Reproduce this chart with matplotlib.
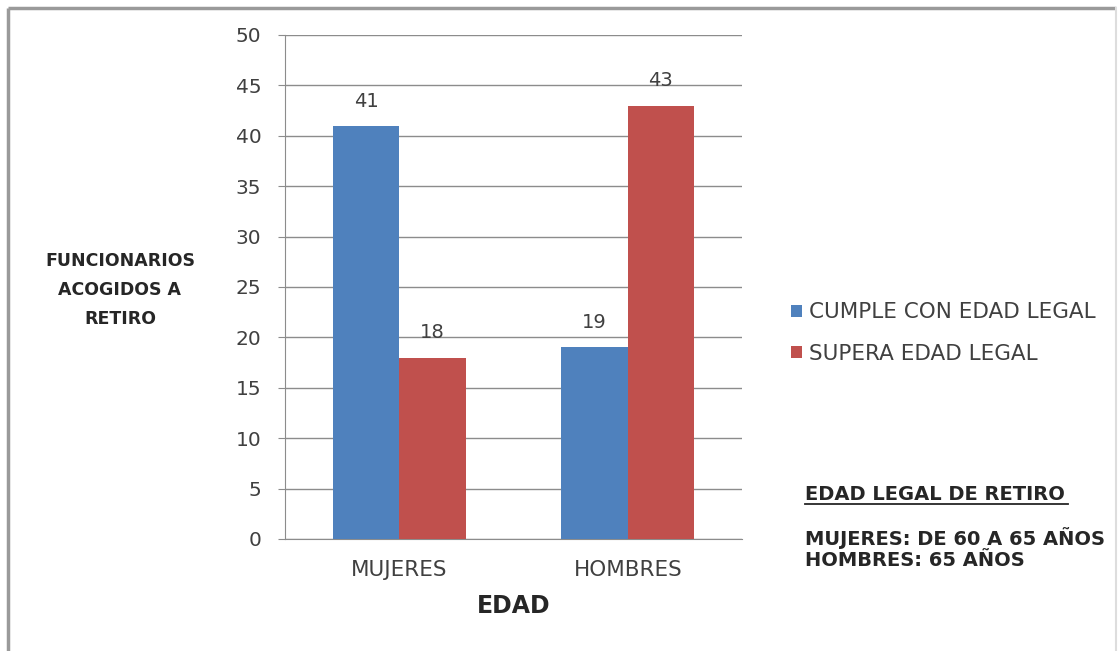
import matplotlib
matplotlib.use("Agg")
import matplotlib.pyplot as plt
from matplotlib.lines import Line2D
import numpy as np

categories = ["MUJERES", "HOMBRES"]
series_names = ["CUMPLE CON EDAD LEGAL", "SUPERA EDAD LEGAL"]
cumple = [41, 19]
supera = [18, 43]
y_ticks = [0, 5, 10, 15, 20, 25, 30, 35, 40, 45, 50]

blue = "#4F81BD"
red = "#C0504D"
text_color = "#404040"
dark = "#262626"

plt.rcParams["font.family"] = ["DejaVu Sans"]

W, H = 1119, 651
fig = plt.figure(figsize=(W / 100, H / 100), dpi=100)
fig.patch.set_facecolor("white")


def fx(px):
    return px / W


def fy(py):
    return 1 - py / H


# outer chart frame (bottom edge runs off the canvas)
frame_kw = dict(transform=fig.transFigure, color="#9a9a9a", linewidth=2.5,
                solid_capstyle="butt")
fig.add_artist(Line2D([fx(8), fx(8)], [fy(8), fy(660)], **frame_kw))
fig.add_artist(Line2D([fx(8), fx(1116)], [fy(8), fy(8)], **frame_kw))
fig.add_artist(Line2D([fx(1116), fx(1116)], [fy(8), fy(660)],
                      transform=fig.transFigure, color="#dddddd", linewidth=1.5))

left, right, top, bottom = 285, 742, 35, 539
ax = fig.add_axes([fx(left), fy(bottom), (right - left) / W, (bottom - top) / H])

x = np.arange(len(categories))
bw = 0.29
b1 = ax.bar(x - bw / 2, cumple, bw, color=blue, label=series_names[0], zorder=3)
b2 = ax.bar(x + bw / 2, supera, bw, color=red, label=series_names[1], zorder=3)

for bars, vals in ((b1, cumple), (b2, supera)):
    for rect, v in zip(bars, vals):
        ax.text(rect.get_x() + rect.get_width() / 2, v + 1.5, str(v),
                ha="center", va="bottom", fontsize=14, color=text_color)

ax.set_xlim(-0.5, 1.5)
ax.set_ylim(0, 50)
ax.set_yticks(y_ticks)
ax.set_xticks(x)
ax.set_xticklabels(categories)
ax.grid(axis="y", color="#8c8c8c", linewidth=1, zorder=0)
for s in ("top", "right"):
    ax.spines[s].set_visible(False)
ax.spines["left"].set_color("#8c8c8c")
ax.spines["bottom"].set_color("#8c8c8c")
ax.tick_params(axis="y", length=5, color="#8c8c8c", labelsize=14.5,
               labelcolor=text_color, pad=12)
ax.tick_params(axis="x", length=0, labelsize=15.5, labelcolor=text_color, pad=15)

ax.set_xlabel("EDAD", fontsize=17, fontweight="bold", color=dark, labelpad=10)

fig.text(fx(120), fy(290), "FUNCIONARIOS\nACOGIDOS A\nRETIRO", ha="center",
         va="center", fontsize=12.5, fontweight="bold", color=dark,
         linespacing=1.8)

fig.legend(handles=[b1, b2], loc="upper left", bbox_to_anchor=(fx(772), fy(283)),
           frameon=False, fontsize=15.5, handlelength=0.5, handleheight=0.5,
           handletextpad=0.3, labelspacing=1.0, labelcolor=text_color)

fig.text(fx(805), fy(494), "EDAD LEGAL DE RETIRO", ha="left", va="center",
         fontsize=14, fontweight="bold", color=dark)
fig.add_artist(Line2D([fx(805), fx(1068)], [fy(504), fy(504)],
                      transform=fig.transFigure, color=dark, linewidth=1.3))
fig.text(fx(805), fy(538), "MUJERES: DE 60 A 65 AÑOS", ha="left", va="center",
         fontsize=14, fontweight="bold", color=dark)
fig.text(fx(805), fy(561), "HOMBRES: 65 AÑOS", ha="left", va="center",
         fontsize=14, fontweight="bold", color=dark)

fig.savefig("out.png", dpi=100)
